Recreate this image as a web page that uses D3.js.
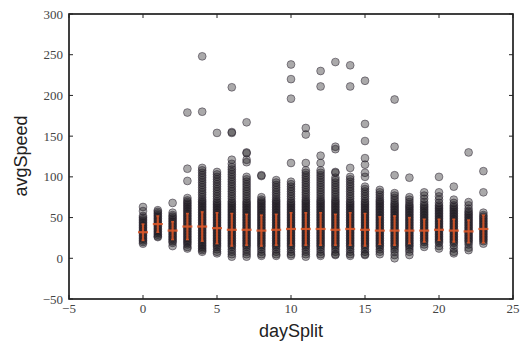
<!DOCTYPE html>
<html><head><meta charset="utf-8">
<script src="https://cdn.jsdelivr.net/npm/d3@7"></script>
<style>body{margin:0;background:#fff}svg{display:block}</style>
</head><body><svg id="c" width="520" height="341"></svg>
<script>
const hours = [0,1,2,3,4,5,6,7,8,9,10,11,12,13,14,15,16,17,18,19,20,21,22,23];
const h00 = [63,58,52,50,48,46,44,42,40,38,36,34,32,30,28,26,24,22,20,18];
const h01 = [59,57,55,53,51,49,47,45,43,41,39,37,35,33,31,29,27,26];
const h02 = [68,56,53,51,49,47,45,43,41,39,37,35,33,31,29,27,25,23,21,19,15];
const h03 = [179,110,95,74,71,69,67,65,63,61,59,57,55,53,51,49,47,45,43,41,39,37,35,33,31,29,27,25,23,21,19,17,14,12];
const h04 = [248,180,111,108,105,102,99,96,93,90,87,84,81,78,75,72,70,68,66,64,62,60,58,56,54,52,50,48,46,44,42,40,38,36,34,32,30,28,26,24,22,20,18,16,14,12,10,8];
const h05 = [154,106,103,100,97,94,91,88,85,82,79,76,73,70,68,66,64,62,60,58,56,54,52,50,48,46,44,42,40,38,36,34,32,30,28,26,24,22,20,18,16,14,11,8,6];
const h06 = [210,155,154,121,116,112,109,106,103,100,97,94,91,88,85,82,79,76,73,70,68,66,64,62,60,58,56,54,52,50,48,46,44,42,40,38,36,34,32,30,28,26,24,22,20,18,16,14,11,8,5,2];
const h07 = [167,130,129,121,118,100,97,94,91,88,85,82,79,76,73,70,68,66,64,62,60,58,56,54,52,50,48,46,44,42,40,38,36,34,32,30,28,26,24,22,20,18,16,14,11,8,5,2];
const h08 = [102,101,75,72,70,68,66,64,62,60,58,56,54,52,50,48,46,44,42,40,38,36,34,32,30,28,26,24,22,20,18,16,14,11,8,5,3];
const h09 = [96,93,90,87,84,81,78,75,72,70,68,66,64,62,60,58,56,54,52,50,48,46,44,42,40,38,36,34,32,30,28,26,24,22,20,18,16,14,11,8,5,3];
const h10 = [238,220,196,117,94,91,88,85,82,79,76,73,70,68,66,64,62,60,58,56,54,52,50,48,46,44,42,40,38,36,34,32,30,28,26,24,22,20,18,16,14,11,8,5,3];
const h11 = [160,152,117,108,105,102,99,96,93,90,87,84,81,78,75,72,70,68,66,64,62,60,58,56,54,52,50,48,46,44,42,40,38,36,34,32,30,28,26,24,22,20,18,16,14,11,8,5,2];
const h12 = [230,211,126,117,108,105,102,99,96,93,90,87,84,81,78,75,72,70,68,66,64,62,60,58,56,54,52,50,48,46,44,42,40,38,36,34,32,30,28,26,24,22,20,18,16,14,11,8,5,3];
const h13 = [241,137,134,106,105,99,96,93,90,87,84,81,78,75,72,70,68,66,64,62,60,58,56,54,52,50,48,46,44,42,40,38,36,34,32,30,28,26,24,22,20,18,16,14,11,8,5,4];
const h14 = [237,211,111,100,97,94,91,88,85,82,79,76,73,70,68,66,64,62,60,58,56,54,52,50,48,46,44,42,40,38,36,34,32,30,28,26,24,22,20,18,16,14,11,8,5,3];
const h15 = [218,165,144,123,115,105,100,88,85,82,79,76,73,70,68,66,64,62,60,58,56,54,52,50,48,46,44,42,40,38,36,34,32,30,28,26,24,22,20,18,16,14,11,8,5,4];
const h16 = [84,81,78,75,72,70,68,66,64,62,60,58,56,54,52,50,48,46,44,42,40,38,36,34,32,30,28,26,24,22,20,18,16,14,11,8,5];
const h17 = [195,137,102,80,77,74,71,68,66,64,62,60,58,56,54,52,50,48,46,44,42,40,38,36,34,32,30,28,26,24,22,20,18,16,14,11,8,4,0];
const h18 = [99,75,72,69,66,64,62,60,58,56,54,52,50,48,46,44,42,40,38,36,34,32,30,28,26,24,22,20,18,16,14,11,8,4];
const h19 = [81,77,73,69,66,64,62,60,58,56,54,52,50,48,46,44,42,40,38,36,34,32,30,28,26,24,22,20,17,14];
const h20 = [100,81,76,72,68,65,63,61,59,57,55,53,51,49,47,45,43,41,39,37,35,33,31,29,27,25,23,21,19,15,12];
const h21 = [88,72,68,65,63,61,59,57,55,53,51,49,47,45,43,41,39,37,35,33,31,29,27,25,23,21,19,16,12,8,6];
const h22 = [130,69,65,61,58,56,54,52,50,48,46,44,42,40,38,36,34,32,30,28,26,24,22,20,17,13,10];
const h23 = [107,81,56,53,51,49,47,45,43,41,39,37,35,33,31,29,27,25,23,21,18];
const speedsByHour = [h00,h01,h02,h03,h04,h05,h06,h07,h08,h09,h10,h11,h12,h13,h14,h15,h16,h17,h18,h19,h20,h21,h22,h23];
const means = [32,42,34,39,39,37,35,35,34,35,36,36,36,35,36,35,34,34,34,34,35,34,33,36];
const stds  = [10,10,11,16,18,19,20,19,19,19,20,20,20,19,20,20,17,18,16,14,13,14,14,17];
const xTicks = [-5,0,5,10,15,20,25];
const yTicks = [-50,0,50,100,150,200,250,300];

const svg = d3.select("#c");
const L = 69, R = 513, T = 14, B = 299;
const x = d3.scaleLinear().domain([-5,25]).range([L,R]);
const y = d3.scaleLinear().domain([-50,300]).range([B,T]);

const pts = [];
hours.forEach((h,i)=>speedsByHour[i].forEach(v=>pts.push({h,v})));

svg.append("defs").append("clipPath").attr("id","pc").append("rect")
  .attr("x",L).attr("y",T).attr("width",R-L).attr("height",B-T);

const g = svg.append("g").attr("clip-path","url(#pc)");
g.selectAll("circle").data(pts).join("circle")
  .attr("cx",d=>x(d.h)).attr("cy",d=>y(d.v)).attr("r",3.9)
  .attr("fill","#141014").attr("fill-opacity",0.36)
  .attr("stroke","#2a2230").attr("stroke-opacity",0.5).attr("stroke-width",1);

// error bars
const eb = svg.append("g").attr("stroke","#d9582a").attr("stroke-opacity",0.9);
hours.forEach((h,i)=>{
  eb.append("line").attr("x1",x(h)).attr("x2",x(h))
    .attr("y1",y(means[i]-stds[i])).attr("y2",y(means[i]+stds[i])).attr("stroke-width",2.2);
  eb.append("line").attr("x1",x(h)-5).attr("x2",x(h)+5)
    .attr("y1",y(means[i])).attr("y2",y(means[i])).attr("stroke-width",2.2);
  [means[i]-stds[i], means[i]+stds[i]].forEach(v=>{
    eb.append("line").attr("x1",x(h)-1.5).attr("x2",x(h)+1.5)
      .attr("y1",y(v)).attr("y2",y(v)).attr("stroke-width",1.5);
  });
});

// frame
svg.append("rect").attr("x",L).attr("y",T).attr("width",R-L).attr("height",B-T)
  .attr("fill","none").attr("stroke","#111").attr("stroke-width",1.6);

// ticks inside
const tk = svg.append("g").attr("stroke","#222").attr("stroke-width",1);
yTicks.forEach(t=>{
  tk.append("line").attr("x1",L).attr("x2",L+4).attr("y1",y(t)).attr("y2",y(t));
  tk.append("line").attr("x1",R).attr("x2",R-4).attr("y1",y(t)).attr("y2",y(t));
});
xTicks.forEach(t=>{
  tk.append("line").attr("x1",x(t)).attr("x2",x(t)).attr("y1",B).attr("y2",B-4);
  tk.append("line").attr("x1",x(t)).attr("x2",x(t)).attr("y1",T).attr("y2",T+4);
});

const fmt = t => (t<0 ? "\u2212"+Math.abs(t) : String(t));
svg.append("g").selectAll("text").data(yTicks).join("text")
  .attr("x",63).attr("y",d=>y(d)).attr("dy","0.35em").attr("text-anchor","end")
  .attr("font-family","Liberation Serif, serif").attr("font-size",13).attr("fill","#444")
  .text(fmt);
svg.append("g").selectAll("text").data(xTicks).join("text")
  .attr("x",d=>x(d)).attr("y",313).attr("text-anchor","middle")
  .attr("font-family","Liberation Serif, serif").attr("font-size",13).attr("fill","#444")
  .text(fmt);

svg.append("text").attr("x",291).attr("y",337).attr("text-anchor","middle")
  .attr("font-family","Liberation Sans, Arial, sans-serif").attr("font-size",18).attr("fill","#222")
  .text("daySplit");
svg.append("text").attr("transform","translate(27,156) rotate(-90)").attr("text-anchor","middle")
  .attr("font-family","Liberation Sans, Arial, sans-serif").attr("font-size",18).attr("fill","#222")
  .text("avgSpeed");
</script></body></html>
